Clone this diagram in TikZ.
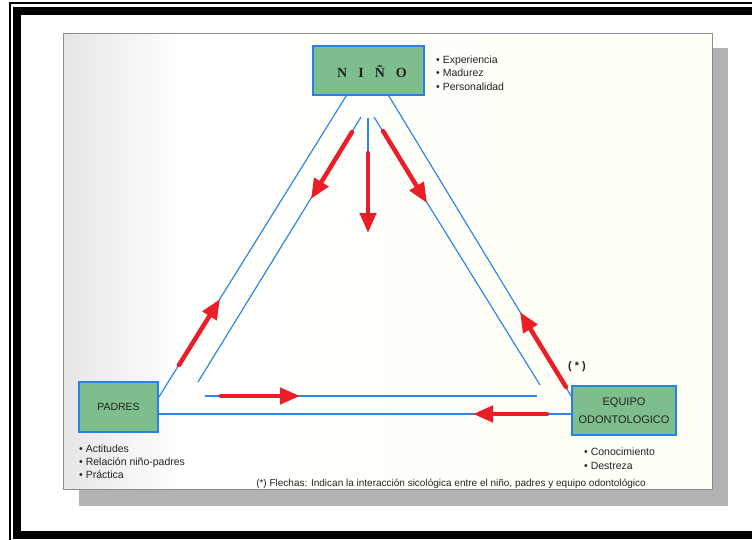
\documentclass[tikz,border=0pt]{standalone}
\usepackage{fontspec}
\setmainfont{Liberation Sans}
\newfontfamily\serifbold{Liberation Serif}
\usetikzlibrary{arrows.meta,calc}
\definecolor{boxgreen}{RGB}{126,190,140}
\definecolor{boxblue}{RGB}{40,130,230}
\definecolor{linblue}{RGB}{45,135,230}
\definecolor{arrred}{RGB}{235,30,40}
\definecolor{shadowgray}{RGB}{178,178,178}
\definecolor{txt}{RGB}{35,35,35}
\definecolor{cream}{RGB}{255,255,248}
\begin{document}
\begin{tikzpicture}[x=1pt,y=-1pt,
  rolebox/.style={draw=boxblue,line width=1.4pt,fill=boxgreen,inner sep=0pt,text=txt,align=center},
  blueline/.style={draw=linblue,line width=1.2pt},
  redarrow/.style={draw=arrred,line width=4.5pt,line cap=round,-{Triangle[length=20pt,width=16pt]}},
  bullet/.style={anchor=base west,inner sep=0pt,font=\fontsize{10.5}{12}\selectfont,text=txt},
  note/.style={anchor=base,inner sep=0pt,font=\fontsize{10}{12}\selectfont,text=txt}]
\useasboundingbox (0,0) rectangle (752,539);
% outer frame
\draw[black,line width=1.5pt] (10,3) rectangle (780,560);
\draw[black,line width=8pt] (17,11) rectangle (775,535);
% paper with shadow
\fill[shadowgray] (79,48) rectangle (728,506);
\fill[white] (63,33) rectangle (712,489);
\shade[left color=black!10,right color=white] (63,33) rectangle (180,489);
\fill[cream] (500,33) rectangle (712,489);
\shade[left color=white,right color=cream] (180,33) rectangle (500,489);
\draw[black!45,line width=1pt] (63,33) rectangle (712,489);
% boxes
\node[rolebox,minimum width=111pt,minimum height=49pt] (nino) at (368.5,70.5) {};
\node[inner sep=0pt,text=txt,font=\serifbold\bfseries\fontsize{14}{16}\selectfont] (ninolabel) at (372,71.5) {N\hspace{11pt}I\hspace{11pt}Ñ\hspace{11pt}O};
\node[rolebox,minimum width=79pt,minimum height=50pt,font=\fontsize{10.5}{12}\selectfont] (padres) at (118.5,407) {PADRES};
\node[rolebox,minimum width=104pt,minimum height=49pt,font=\fontsize{11}{18}\selectfont] (equipo) at (624,410.5) {EQUIPO\\ODONTOLOGICO};
% outer triangle
\coordinate (oLt) at ($(nino.south west)+(34,0)$);
\coordinate (oLb) at ($(padres.north east)+(0,16)$);
\coordinate (oRt) at ($(nino.south east)+(-36,0)$);
\coordinate (oRb) at ($(equipo.north west)+(0,11)$);
\coordinate (oBl) at ($(padres.east)+(0,7)$);
\coordinate (oBr) at ($(equipo.west)+(0,3.5)$);
\draw[blueline] (oLt) -- (oLb);
\draw[blueline] (oRt) -- (oRb);
\draw[blueline] (oBl) -- (oBr);
% inner lines
\coordinate (iLt) at (361,117);
\coordinate (iLb) at (198,382);
\coordinate (iCt) at (368,118);
\coordinate (iCb) at (368,160);
\coordinate (iRt) at (374,117);
\coordinate (iRb) at (540,385);
\coordinate (iBl) at (205,396);
\coordinate (iBr) at (537,396);
\draw[blueline] (iLt) -- (iLb);
\draw[blueline] (iCt) -- (iCb);
\draw[blueline] (iRt) -- (iRb);
\draw[blueline] (iBl) -- (iBr);
% red arrows
\coordinate (a1s) at (352,132); \coordinate (a1e) at (311,199);
\coordinate (a2s) at (368,153); \coordinate (a2e) at (368,233);
\coordinate (a3s) at (383,131); \coordinate (a3e) at (427,203);
\coordinate (a4s) at (179,365); \coordinate (a4e) at (220,299);
\coordinate (a5s) at (221,396); \coordinate (a5e) at (300,396);
\coordinate (a6s) at (566,387); \coordinate (a6e) at (520,312);
\coordinate (a7s) at (547,414); \coordinate (a7e) at (473,414);
\draw[redarrow] (a1s) -- (a1e);
\draw[redarrow] (a2s) -- (a2e);
\draw[redarrow] (a3s) -- (a3e);
\draw[redarrow] (a4s) -- (a4e);
\draw[redarrow] (a5s) -- (a5e);
\draw[redarrow] (a6s) -- (a6e);
\draw[redarrow] (a7s) -- (a7e);
% bullets
\node[bullet] (n1) at (436,63) {• Experiencia};
\node[bullet] (n2) at (436,76.5) {• Madurez};
\node[bullet] (n3) at (436,90) {• Personalidad};
\node[bullet] (p1) at (79,452) {• Actitudes};
\node[bullet] (p2) at (79,465) {• Relación niño-padres};
\node[bullet] (p3) at (79,478) {• Práctica};
\node[bullet] (e1) at (584,455) {• Conocimiento};
\node[bullet] (e2) at (584,469) {• Destreza};
\node[inner sep=0pt,font=\bfseries\fontsize{11}{12}\selectfont,text=txt] (star) at (577,367) {(\hspace{3pt}*\hspace{3pt})};
\node[note] (foot) at (451,486) {(*) Flechas: Indican la interacción sicológica entre el niño, padres y equipo odontológico};
\end{tikzpicture}
\end{document}
